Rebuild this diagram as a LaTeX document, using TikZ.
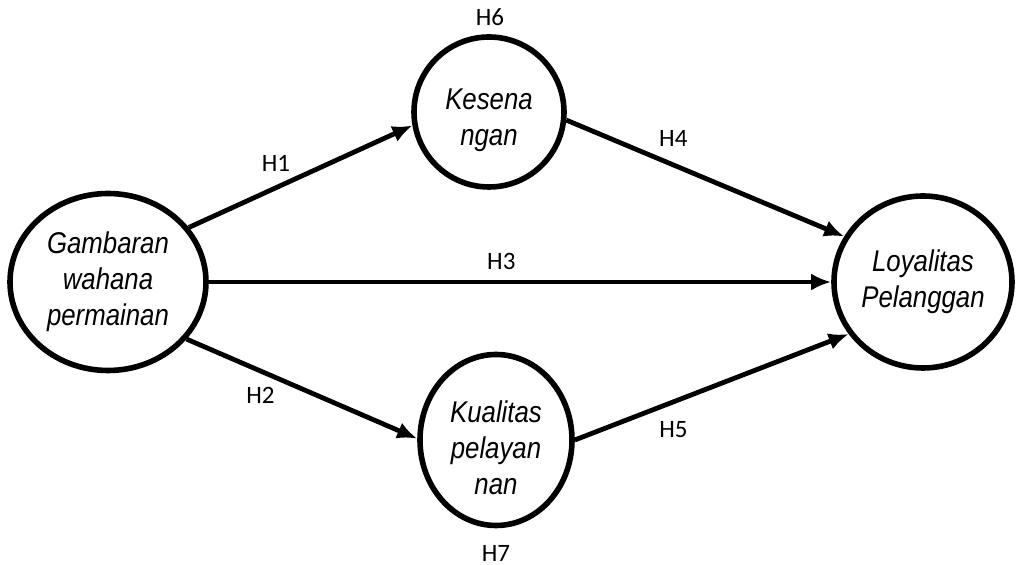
\documentclass[tikz,border=0pt]{standalone}
\usepackage{fontspec}
\setmainfont{Liberation Sans}
\newfontfamily\narrowfont[FakeStretch=0.86]{Liberation Sans}
\newfontfamily\labelfont{Carlito}
\usepackage{tikz}
\usetikzlibrary{arrows.meta,shapes.geometric}
\tikzstyle{h}=[font=\labelfont\fontsize{12.5}{14}\selectfont, inner sep=1mm]
\newcommand{\topstrut}{\rule{0pt}{19pt}}

\begin{document}
\begin{tikzpicture}[x=0.5pt,y=-0.5pt]
%\draw[help lines] (0,0) grid (1019,565);
\tikzstyle{v}=[ellipse,draw,line width=2.8pt,inner sep=0pt,align=center,font=\narrowfont\fontsize{15}{18}\selectfont\itshape]
\tikzstyle{a}=[line width=2.4pt,-{Latex[length=10pt,width=8.5pt]}]
\useasboundingbox (0,0) rectangle (1019,565);

\node[v,minimum width=98pt,minimum height=88.5pt] (g) at (108,282) {Gambaran\\wahana\\permainan};
\node[v,minimum width=75pt,minimum height=75pt] (k) at (489,112) {\topstrut Kesena\\ngan};
\node[v,minimum width=76pt,minimum height=85.5pt] (q) at (496,440) {\topstrut Kualitas\\pelayan\\nan};
\node[v,minimum width=89pt,minimum height=86pt] (l) at (923,282) {Loyalitas\\Pelanggan};

\node[h] (h6) at (490,17) {H6};
\node[h] (h7) at (496,553) {H7};

\path (g.34) edge[a] node[h,pos=0.39,above=4pt] {H1} (k.190);
\path (k.354) edge[a] node[h,pos=0.385,above=5pt] {H4} (l.150);
\path (g) edge[a] node[h,pos=0.47,above=2pt] {H3} (l);
\path (g.324) edge[a] node[h,pos=0.32,below=4pt] {H2} (q.179);
\path (q.0) edge[a] node[h,pos=0.36,below=6pt] {H5} (l.215);
\end{tikzpicture}
\end{document}
